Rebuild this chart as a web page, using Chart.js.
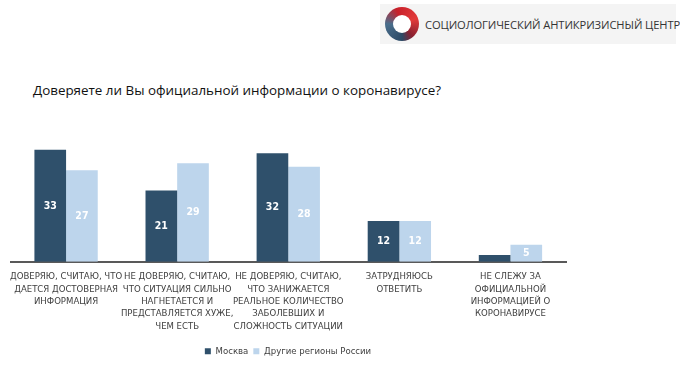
<!DOCTYPE html>
<html>
<head>
<meta charset="utf-8">
<script src="https://cdn.jsdelivr.net/npm/chart.js@4"></script>
<style>
  body { margin: 0; background: #fff; }
  #wrap { position: relative; width: 680px; height: 368px; overflow: hidden; }
  #myChart { position: absolute; left: 0; top: 0; }
  #logo { position: absolute; left: 380px; top: 4px; width: 296px; height: 40px; background: #f4f4f4; }
  #logo .ring { position: absolute; left: 5px; top: 3px; width: 34px; height: 34px; border-radius: 50%;
    background: conic-gradient(from -20deg, #c8202a 0deg, #e23a3a 90deg, #8a2030 160deg, #2c4a66 200deg, #4a6e8c 290deg, #c8202a 360deg); }
  #logo .ring::after { content: ""; position: absolute; left: 8px; top: 8px; width: 18px; height: 18px; border-radius: 50%; background: #fff; }
  #logo span { position: absolute; left: 45px; top: 13px; font-family: "Open Sans", sans-serif; font-size: 11.2px; color: #333; white-space: nowrap; letter-spacing: -0.1px; }
  #title { position: absolute; left: 33px; top: 81px; font-family: "Open Sans", sans-serif; font-size: 13.4px; color: #111; white-space: nowrap; }
</style>
</head>
<body>
<div id="wrap">
  <div id="logo"><div class="ring"></div><span>СОЦИОЛОГИЧЕСКИЙ АНТИКРИЗИСНЫЙ ЦЕНТР</span></div>
  <div id="title">Доверяете ли Вы официальной информации о коронавирусе?</div>
  <canvas id="myChart" width="680" height="368"></canvas>
</div>
<script>
// answers (x axis)
var categories = [
  ["ДОВЕРЯЮ, СЧИТАЮ, ЧТО", "ДАЕТСЯ ДОСТОВЕРНАЯ", "ИНФОРМАЦИЯ"],
  ["НЕ ДОВЕРЯЮ, СЧИТАЮ,", "ЧТО СИТУАЦИЯ СИЛЬНО", "НАГНЕТАЕТСЯ И", "ПРЕДСТАВЛЯЕТСЯ ХУЖЕ,", "ЧЕМ ЕСТЬ"],
  ["НЕ ДОВЕРЯЮ, СЧИТАЮ,", "ЧТО ЗАНИЖАЕТСЯ", "РЕАЛЬНОЕ КОЛИЧЕСТВО", "ЗАБОЛЕВШИХ И", "СЛОЖНОСТЬ СИТУАЦИИ"],
  ["ЗАТРУДНЯЮСЬ", "ОТВЕТИТЬ"],
  ["НЕ СЛЕЖУ ЗА", "ОФИЦИАЛЬНОЙ", "ИНФОРМАЦИЕЙ О", "КОРОНАВИРУСЕ"]
];
var seriesNames = ["Москва", "Другие регионы России"];
var moscow = [33, 21, 32, 12, 2];
var regions = [27, 29, 28, 12, 5];

var barColors = ["#2f506b", "#bdd5ec"];
var narrow = "'DejaVu Sans Condensed', 'Liberation Sans Narrow', sans-serif";

// numbers inside the bars
var valueLabels = {
  id: "valueLabels",
  afterDatasetsDraw: function (chart) {
    var ctx = chart.ctx;
    ctx.save();
    ctx.fillStyle = "#fff";
    ctx.font = "bold 10.5px " + narrow;
    ctx.textAlign = "center";
    ctx.textBaseline = "middle";
    chart.data.datasets.forEach(function (ds, i) {
      chart.getDatasetMeta(i).data.forEach(function (bar, j) {
        var v = ds.data[j];
        if (v < 3) return;
        ctx.fillText(v, bar.x, (bar.y + bar.base) / 2);
      });
    });
    ctx.restore();
  }
};

new Chart("myChart", {
  type: "bar",
  data: {
    labels: categories,
    datasets: [
      { label: seriesNames[0], data: moscow, backgroundColor: barColors[0] },
      { label: seriesNames[1], data: regions, backgroundColor: barColors[1] }
    ]
  },
  options: {
    responsive: false,
    animation: false,
    layout: { padding: { left: 10, right: 114, top: 143, bottom: 2 } },
    datasets: { bar: { categoryPercentage: 0.57, barPercentage: 1 } },
    scales: {
      x: {
        grid: { display: false, drawTicks: false },
        border: { color: "#595959", width: 2 },
        ticks: {
          autoSkip: false, maxRotation: 0, padding: 9, color: "#404040",
          font: { family: narrow, size: 9.5, lineHeight: 1.3 }
        }
      },
      y: { display: false, min: 0, max: 35 }
    },
    plugins: {
      legend: {
        position: "bottom",
        labels: {
          boxWidth: 6, boxHeight: 6, padding: 5, color: "#404040",
          font: { family: narrow, size: 9.5 }
        }
      },
      tooltip: { enabled: false }
    }
  },
  plugins: [valueLabels]
});
</script>
</body>
</html>
